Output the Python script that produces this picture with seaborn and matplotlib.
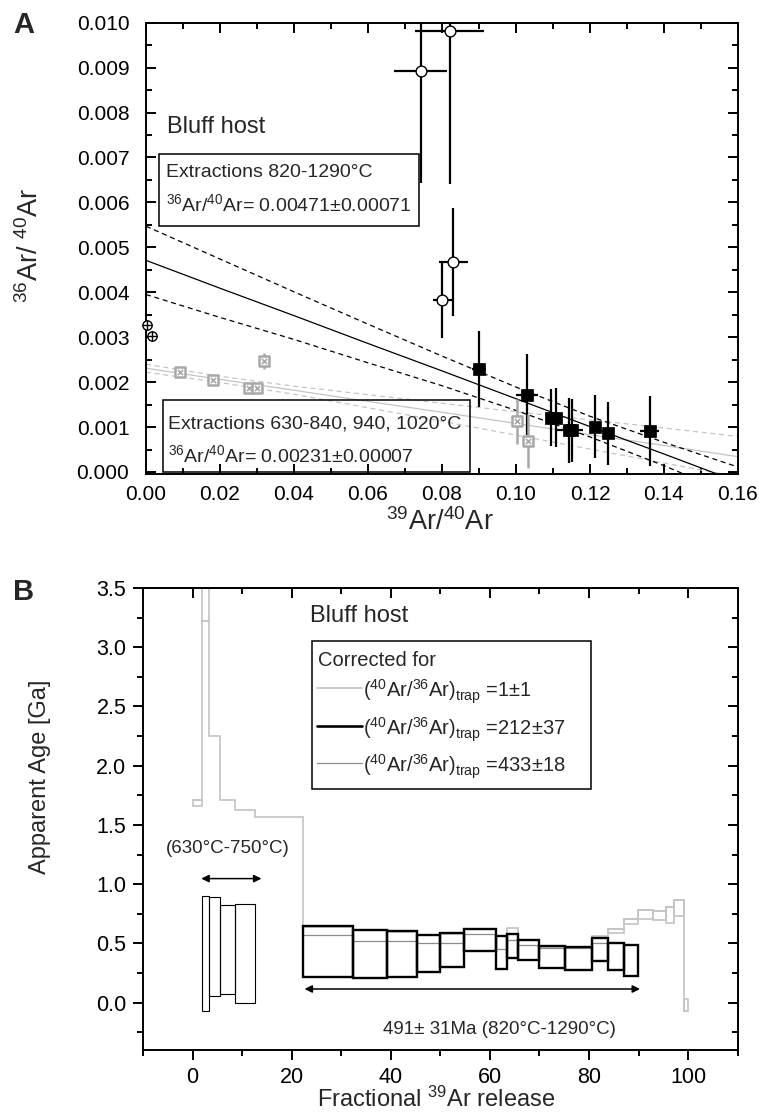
import matplotlib
matplotlib.use('Agg')
import numpy as np
import pandas as pd
import matplotlib.pyplot as plt
from matplotlib.patches import Rectangle
from matplotlib.ticker import MultipleLocator
import seaborn as sns

# ---------------- panel A : 36Ar/40Ar vs 39Ar/40Ar ----------------
# open circles (excluded high-T points)
open_x = [0.0742, 0.0821, 0.0831, 0.0801]
open_y = [0.00893, 0.00982, 0.00467, 0.00382]
open_xerr = [0.0072, 0.0093, 0.0040, 0.0025]
open_yerr = [0.0025, 0.0034, 0.0012, 0.00084]

# filled squares, extractions 820-1290 C
fill_x = [0.0900, 0.1030, 0.1095, 0.1108, 0.1144, 0.1151, 0.1214, 0.1248, 0.1361]
fill_y = [0.00229, 0.00172, 0.00121, 0.00121, 0.00093, 0.00093, 0.00101, 0.00086, 0.00091]
fill_xerr = [0.0020, 0.0030, 0.0010, 0.0010, 0.0036, 0.0010, 0.0010, 0.0008, 0.0025]
fill_yerr = [0.00085, 0.00090, 0.00063, 0.00065, 0.00072, 0.00070, 0.00070, 0.00070, 0.00078]

# grey crossed squares, extractions 630-840, 940, 1020 C
grey_x = [0.0091, 0.0182, 0.0279, 0.0301, 0.0320, 0.1003, 0.1033]
grey_y = [0.00223, 0.00204, 0.00188, 0.00188, 0.00247, 0.00113, 0.00069]
grey_yerr = [0.00008, 0.00008, 0.00008, 0.00008, 0.00018, 0.00050, 0.00060]

# crossed circles close to the origin
cross_x = [0.0002, 0.0016]
cross_y = [0.00327, 0.00303]

# regression lines and their envelopes
band_x = [0.0, 0.02, 0.04, 0.06, 0.08, 0.10, 0.12, 0.14, 0.16]
black_fit = [0.00471, 0.00409, 0.00348, 0.00286, 0.00225, 0.00163, 0.00101, 0.00040, -0.00022]
black_up = [0.00547, 0.00474, 0.00401, 0.00329, 0.00258, 0.00189, 0.00124, 0.00066, 0.00011]
black_lo = [0.00395, 0.00344, 0.00295, 0.00243, 0.00192, 0.00137, 0.00078, 0.00014, -0.00055]
grey_fit = [0.00231, 0.00206, 0.00182, 0.00157, 0.00133, 0.00108, 0.00083, 0.00059, 0.00034]
grey_up = [0.00240, 0.00213, 0.00191, 0.00172, 0.00153, 0.00134, 0.00116, 0.00098, 0.00079]
grey_lo = [0.00222, 0.00199, 0.00173, 0.00143, 0.00113, 0.00082, 0.00051, 0.00020, -0.00011]

# ---------------- panel B : age spectrum ----------------
edges = [0, 2.0, 3.4, 5.45, 8.5, 12.5, 22.3, 32.3, 39.3, 45.2, 49.9, 54.8, 61.3, 63.5,
         65.7, 70.0, 75.2, 80.7, 83.8, 87.1, 89.9, 93.0, 95.6, 97.2, 99.2, 100.0]

# trap = 1 +- 1 (light grey)
light_age = [1.71, 3.22, 2.25, 1.71, 1.63, 1.57, 0.64, 0.61, 0.60, 0.57, 0.58, 0.62, 0.56,
             0.63, 0.53, 0.47, 0.47, 0.56, 0.62, 0.705, 0.78, 0.77, 0.81, 0.87, -0.07]
light_box_step = [0, 1, 18, 19, 20, 21, 22, 23, 24]
light_box_lo = [1.66, 3.22, 0.59, 0.66, 0.705, 0.70, 0.67, 0.73, -0.07]
light_box_hi = [1.71, 4.00, 0.62, 0.705, 0.78, 0.77, 0.81, 0.87, 0.03]

# trap = 433 +- 18 (mid grey), steps 7-18
mid_age = [0.567, 0.517, 0.517, 0.50, 0.50, 0.58, 0.45, 0.53, 0.49, 0.465, 0.465, 0.50]

# trap = 212 +- 37 (black): low-T thin boxes, steps 2-5
thin_lo = [-0.07, 0.06, 0.07, 0.0]
thin_hi = [0.90, 0.89, 0.82, 0.83]
# plateau boxes, steps 7-20
thick_lo = [0.213, 0.205, 0.216, 0.256, 0.298, 0.433, 0.284, 0.374, 0.363, 0.292,
            0.272, 0.354, 0.278, 0.222]
thick_hi = [0.649, 0.616, 0.604, 0.573, 0.584, 0.618, 0.565, 0.582, 0.531, 0.475,
            0.470, 0.542, 0.503, 0.486]

sns.set_theme(style='ticks')
plt.rcParams['font.family'] = ['Liberation Sans', 'DejaVu Sans']
plt.rcParams['mathtext.fontset'] = 'custom'
plt.rcParams['mathtext.rm'] = 'Liberation Sans'
plt.rcParams['mathtext.it'] = 'Liberation Sans:italic'
plt.rcParams['mathtext.bf'] = 'Liberation Sans:bold'
plt.rcParams['axes.linewidth'] = 1.4

LIGHT = '#c4c4c4'
MID = '#8c8c8c'
GMARK = '#a8a8a8'

fig = plt.figure(figsize=(7.59, 11.15), dpi=100)
axA = fig.add_axes([146 / 759, 1 - 474 / 1115, 592 / 759, 451.3 / 1115])
axB = fig.add_axes([143 / 759, 1 - 1050 / 1115, 594.7 / 759, 462 / 1115])

# ---- panel A ----
axA.plot(band_x, black_fit, color='black', lw=0.9, zorder=2)
axA.plot(band_x, black_up, color='black', lw=0.9, ls=(0, (4, 3)), zorder=2)
axA.plot(band_x, black_lo, color='black', lw=0.9, ls=(0, (4, 3)), zorder=2)
axA.plot(band_x, grey_fit, color=LIGHT, lw=0.9, zorder=1)
axA.plot(band_x, grey_up, color=LIGHT, lw=0.9, ls=(0, (4, 3)), zorder=1)
axA.plot(band_x, grey_lo, color=LIGHT, lw=0.9, ls=(0, (4, 3)), zorder=1)

axA.errorbar(open_x, open_y, xerr=open_xerr, yerr=open_yerr, fmt='none',
             ecolor='black', elinewidth=1.6, zorder=3)
axA.errorbar(fill_x, fill_y, xerr=fill_xerr, yerr=fill_yerr, fmt='none',
             ecolor='black', elinewidth=1.6, zorder=3)
axA.errorbar(grey_x, grey_y, yerr=grey_yerr, fmt='none',
             ecolor=GMARK, elinewidth=1.8, zorder=3)

dfo = pd.DataFrame({'x': open_x, 'y': open_y})
dff = pd.DataFrame({'x': fill_x, 'y': fill_y})
dfg = pd.DataFrame({'x': grey_x, 'y': grey_y})
dfc = pd.DataFrame({'x': cross_x, 'y': cross_y})
sns.scatterplot(data=dfo, x='x', y='y', marker='o', s=60, color='white',
                edgecolor='black', linewidth=1.0, ax=axA, zorder=5)
sns.scatterplot(data=dff, x='x', y='y', marker='s', s=70, color='black',
                edgecolor='black', linewidth=0.5, ax=axA, zorder=5)
sns.scatterplot(data=dfg, x='x', y='y', marker='s', s=55, color='white',
                edgecolor=GMARK, linewidth=1.8, ax=axA, zorder=5)
sns.scatterplot(data=dfg, x='x', y='y', marker='x', s=14, color=GMARK,
                linewidth=1.2, ax=axA, zorder=6)
sns.scatterplot(data=dfc, x='x', y='y', marker='o', s=45, color='white',
                edgecolor='black', linewidth=1.0, ax=axA, zorder=5, clip_on=False)
sns.scatterplot(data=dfc, x='x', y='y', marker='+', s=45, color='black',
                linewidth=1.0, ax=axA, zorder=6, clip_on=False)

axA.set_xlim(0, 0.16)
axA.set_ylim(-0.000045, 0.010)
axA.set_xticks(np.arange(0, 0.1601, 0.02))
axA.set_xticklabels([f'{v:.2f}' for v in np.arange(0, 0.1601, 0.02)])
axA.set_yticks(np.arange(0, 0.01001, 0.001))
axA.set_yticklabels([f'{v:.3f}' for v in np.arange(0, 0.01001, 0.001)])
axA.xaxis.set_minor_locator(MultipleLocator(0.01))
axA.yaxis.set_minor_locator(MultipleLocator(0.0005))
axA.tick_params(which='both', direction='in', top=True, right=True, width=1.4,
                labelsize=15, colors='black')
axA.tick_params(which='major', length=7)
axA.tick_params(which='minor', length=4)
axA.tick_params(axis='y', pad=12)
axA.tick_params(axis='x', pad=8)
axA.set_xlabel('')
axA.set_ylabel('')
for s in axA.spines.values():
    s.set_color('black')
    s.set_linewidth(1.4)

axA.text(-0.196, 0.507, r'$^{36}$Ar/ $^{40}$Ar', transform=axA.transAxes, rotation=90,
         ha='center', va='center', fontsize=19.5)
axA.text(0.497, -0.106, r'$^{39}$Ar/$^{40}$Ar', transform=axA.transAxes,
         ha='center', va='center', fontsize=19.5)
axA.text(0.0355, 0.769, 'Bluff host', transform=axA.transAxes, ha='left',
         va='center', fontsize=17)

axA.add_patch(Rectangle((0.022, 0.5495), 0.439, 0.1595, transform=axA.transAxes,
                        fill=False, edgecolor='black', lw=1.1, zorder=4))
axA.text(0.034, 0.668, 'Extractions 820-1290°C', transform=axA.transAxes,
         ha='left', va='center', fontsize=14)
axA.text(0.034, 0.598, r'$^{36}$Ar/$^{40}$Ar= 0.00471±0.00071', transform=axA.transAxes,
         ha='left', va='center', fontsize=14)
axA.add_patch(Rectangle((0.0287, 0.0044), 0.5183, 0.1596, transform=axA.transAxes,
                        fill=False, edgecolor='black', lw=1.1, zorder=4))
axA.text(0.037, 0.111, 'Extractions 630-840, 940, 1020°C', transform=axA.transAxes,
         ha='left', va='center', fontsize=14)
axA.text(0.037, 0.042, r'$^{36}$Ar/$^{40}$Ar= 0.00231±0.00007', transform=axA.transAxes,
         ha='left', va='center', fontsize=14)

# ---- panel B ----
e = np.array(edges)
axB.stairs(light_age, edges, baseline=None, color=LIGHT, lw=1.2, zorder=1)
for k, lo, hi in zip(light_box_step, light_box_lo, light_box_hi):
    axB.bar(e[k], hi - lo, width=e[k + 1] - e[k], bottom=lo, align='edge',
            fill=False, edgecolor=LIGHT, linewidth=1.2, zorder=1)
axB.stairs(mid_age, edges[6:19], baseline=None, color=MID, lw=0.9, zorder=2)

axB.bar(e[1:5], np.array(thin_hi) - np.array(thin_lo), width=np.diff(e)[1:5],
        bottom=thin_lo, align='edge', fill=False, edgecolor='black', linewidth=0.8, zorder=3)
axB.bar(e[6:20], np.array(thick_hi) - np.array(thick_lo), width=np.diff(e)[6:20],
        bottom=thick_lo, align='edge', fill=False, edgecolor='black', linewidth=1.7, zorder=3)

axB.annotate('', xy=(1.76, 1.047), xytext=(13.9, 1.047),
             arrowprops=dict(arrowstyle='<|-|>', color='black', lw=1.1, mutation_scale=11,
                             shrinkA=0, shrinkB=0))
axB.annotate('', xy=(22.6, 0.115), xytext=(90.3, 0.115),
             arrowprops=dict(arrowstyle='<|-|>', color='black', lw=1.1, mutation_scale=11,
                             shrinkA=0, shrinkB=0))
axB.text(7.1, 1.30, '(630°C-750°C)', ha='center', va='center', fontsize=13.5)
axB.text(62.0, -0.23, '491± 31Ma (820°C-1290°C)', ha='center', va='center', fontsize=13.5)
axB.text(0.281, 0.939, 'Bluff host', transform=axB.transAxes, ha='left',
         va='center', fontsize=17)

# legend box
axB.add_patch(Rectangle((0.284, 0.565), 0.469, 0.320, transform=axB.transAxes,
                        fill=False, edgecolor='black', lw=1.1, zorder=4))
axB.text(0.294, 0.844, 'Corrected for', transform=axB.transAxes, ha='left',
         va='center', fontsize=14.5)
leg_y = [0.783, 0.701, 0.621]
leg_col = [LIGHT, 'black', MID]
leg_lw = [1.2, 1.9, 0.9]
leg_txt = ['=1±1', '=212±37', '=433±18']
for yy, cc, ww, tt in zip(leg_y, leg_col, leg_lw, leg_txt):
    axB.plot([0.292, 0.368], [yy, yy], color=cc, lw=ww, transform=axB.transAxes)
    axB.text(0.370, yy - 0.021, r'($^{40}$Ar/$^{36}$Ar)$_{\mathrm{trap}}$ ' + tt,
             transform=axB.transAxes, ha='left', va='baseline', fontsize=14.5)

axB.set_xlim(-10, 110)
axB.set_ylim(-0.4, 3.5)
axB.set_xticks([0, 20, 40, 60, 80, 100])
axB.set_yticks(np.arange(0, 3.51, 0.5))
axB.set_yticklabels([f'{v:.1f}' for v in np.arange(0, 3.51, 0.5)])
axB.xaxis.set_minor_locator(MultipleLocator(10))
axB.yaxis.set_minor_locator(MultipleLocator(0.25))
axB.tick_params(which='both', direction='out', width=1.4, labelsize=15.5, colors='black')
axB.tick_params(which='major', length=7)
axB.tick_params(which='minor', length=4)
axB.tick_params(axis='x', pad=5)
axB.tick_params(axis='y', pad=5)
axB.set_xlabel('')
axB.set_ylabel('')
for s in axB.spines.values():
    s.set_color('black')
    s.set_linewidth(1.4)

secx = axB.secondary_xaxis('top')
secx.set_xticks([0, 20, 40, 60, 80, 100])
secx.xaxis.set_minor_locator(MultipleLocator(10))
secx.tick_params(which='both', direction='in', width=1.4, labeltop=False, colors='black')
secx.tick_params(which='major', length=7)
secx.tick_params(which='minor', length=4)
secy = axB.secondary_yaxis('right')
secy.set_yticks(np.arange(0, 3.51, 0.5))
secy.yaxis.set_minor_locator(MultipleLocator(0.25))
secy.tick_params(which='both', direction='in', width=1.4, labelright=False, colors='black')
secy.tick_params(which='major', length=7)
secy.tick_params(which='minor', length=4)
secx.spines['top'].set_linewidth(1.4)
secy.spines['right'].set_linewidth(1.4)

axB.text(-0.173, 0.591, 'Apparent Age [Ga]', transform=axB.transAxes, rotation=90,
         ha='center', va='center', fontsize=17)
axB.text(0.493, -0.106, r'Fractional $^{39}$Ar release', transform=axB.transAxes,
         ha='center', va='center', fontsize=17)

fig.text(23.5 / 759, 1 - 25 / 1115, 'A', ha='center', va='center', fontsize=21,
         fontweight='bold')
fig.text(24 / 759, 1 - 592 / 1115, 'B', ha='center', va='center', fontsize=21,
         fontweight='bold')

fig.savefig('out.png', dpi=100)
